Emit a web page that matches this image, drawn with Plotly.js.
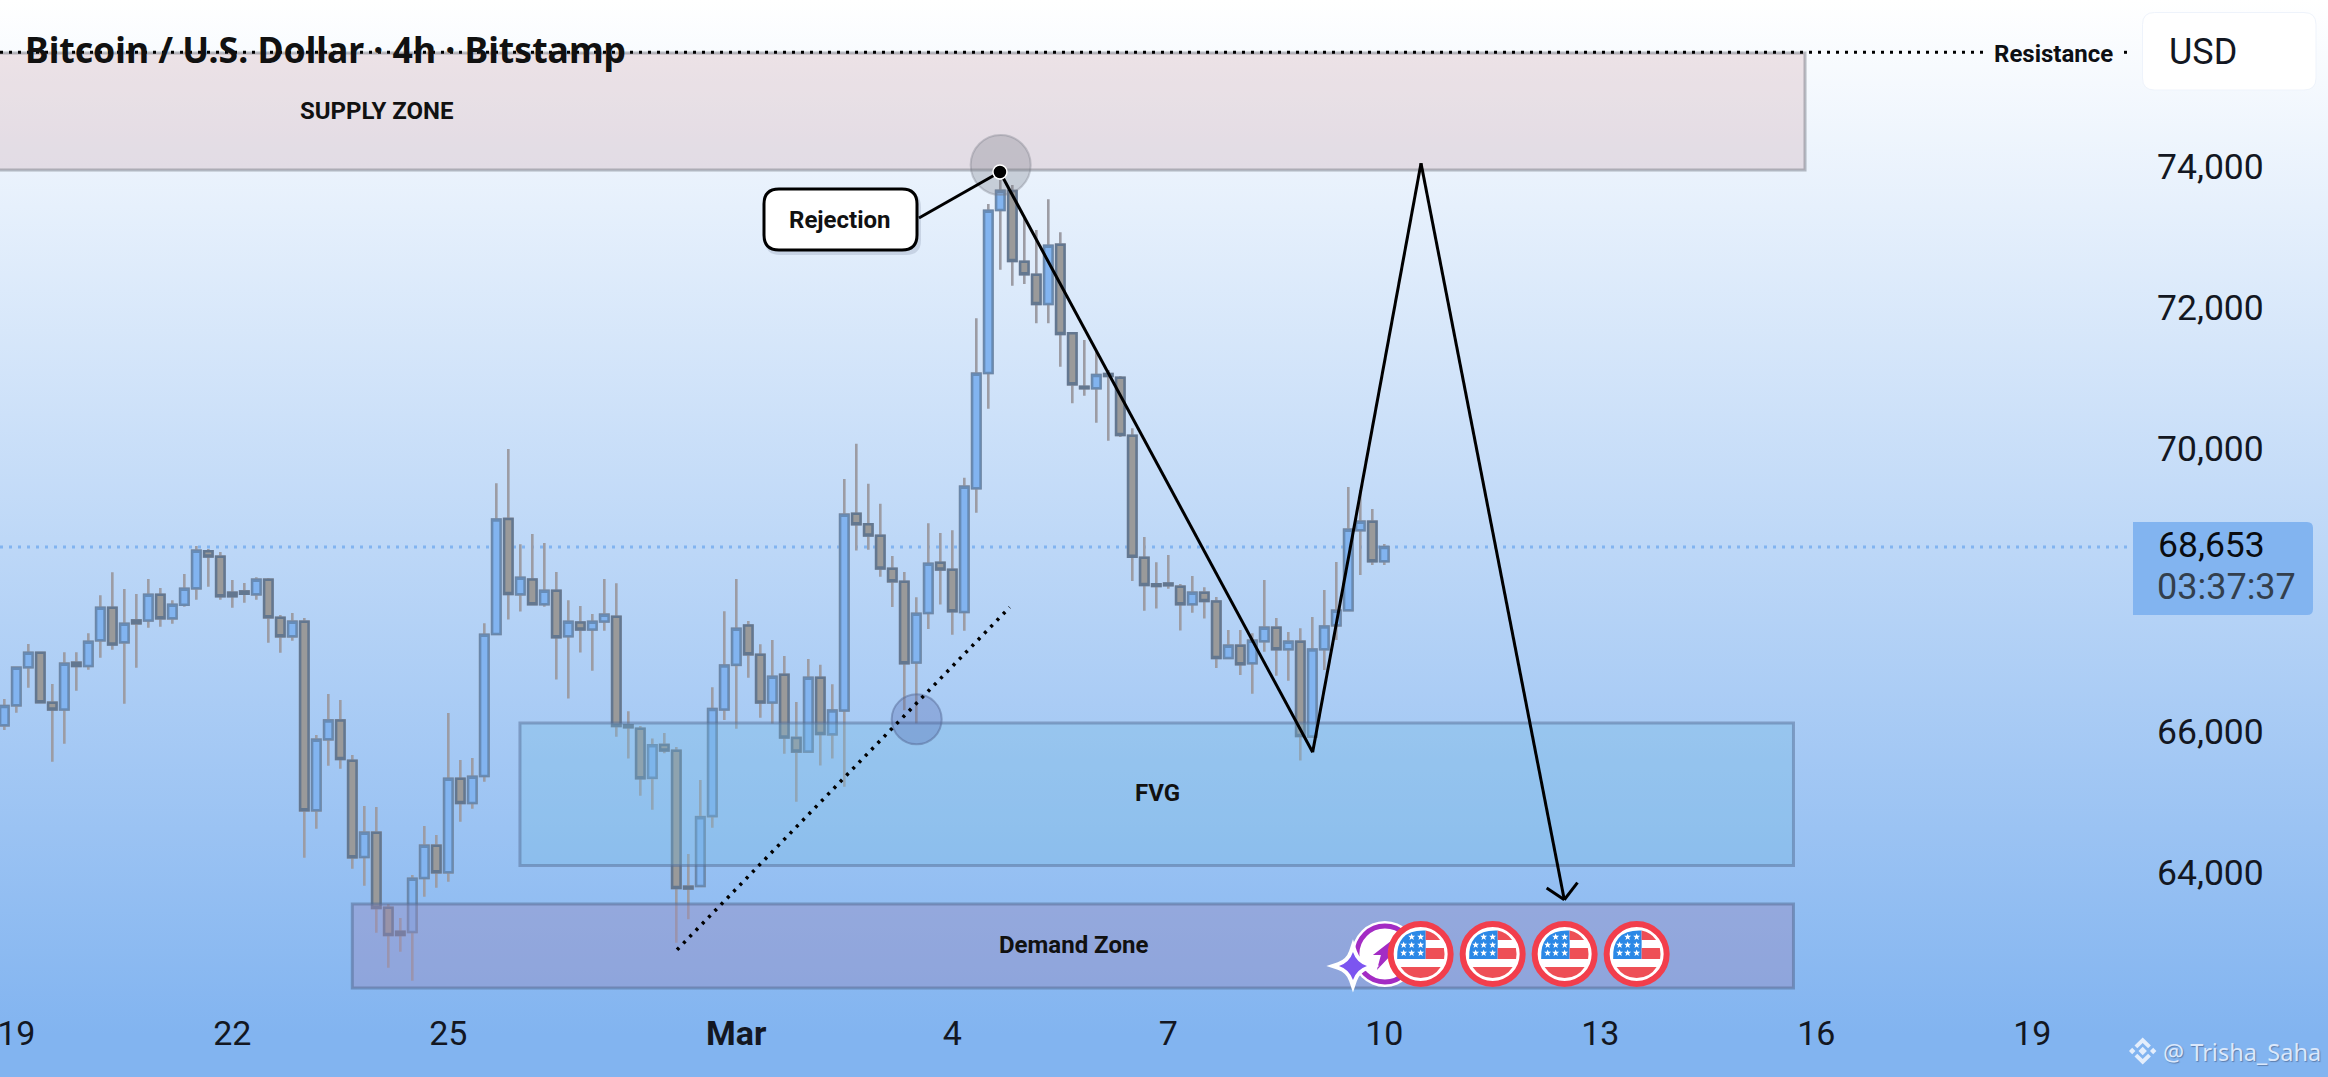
<!DOCTYPE html>
<html>
<head>
<meta charset="utf-8">
<script src="https://cdn.plot.ly/plotly-3.0.1.min.js"></script>
<style>
html,body{margin:0;padding:0;width:2328px;height:1077px;overflow:hidden;background:linear-gradient(180deg,#ffffff 0px,#82b4f0 1035px,#82b4f0 1077px);}
#chart{width:2328px;height:1077px;}
</style>
</head>
<body>
<div id="chart"></div>
<script>
const opens=[66053,66336,66875,67082,66374,66279,66941,66893,67257,67720,67229,67540,67540,67904,67569,67762,67994,68518,68443,67933,67951,67909,68117,67578,67314,67522,64848,65854,66123,65552,64187,64532,63469,63129,63124,63889,64348,63970,65297,64952,65335,67347,68978,67909,68118,67770,67959,67317,67511,67412,67526,67591,66054,66005,65309,65776,65691,63767,63777,64767,66278,66910,67466,67054,66378,66770,65875,65681,66726,65925,66263,69052,68903,68739,68272,68088,66944,67645,68356,68257,67660,69412,71046,73355,73624,72623,72438,72023,72864,71608,70851,70829,71031,70979,70157,68428,68051,68061,68018,67768,67933,67806,67008,67182,66932,67244,67437,67130,67239,65893,67130,67470,67683,68817,68939,68377];
const closes=[66327,66870,67082,66379,66279,66927,66893,67238,67720,67200,67493,67498,67904,67569,67762,67989,68528,68447,67881,67881,67918,68117,67583,67314,67522,64848,65850,66123,65576,64182,64532,63464,63082,63082,63880,64348,63970,65297,64952,65325,67337,68968,67914,68143,67770,67959,67302,67521,67412,67521,67621,66044,66025,65304,65771,65696,63747,63742,64752,66283,66900,67422,67059,66378,66740,65880,65681,66726,65930,66263,69038,68903,68744,68277,68093,66934,67635,68341,68262,67670,69435,71036,73345,73629,72633,72444,72023,72849,71598,70885,70829,71017,71003,70167,68443,68042,68028,68037,67768,67933,67815,67008,67182,66918,67253,67437,67130,67239,65902,67126,67452,67678,68826,68939,68377,68580];
const highs=[66426,66870,67205,67082,66638,67087,67087,67356,67895,68221,67984,67914,68126,67999,67824,68197,68594,68551,68509,68112,68069,68150,68140,67616,67644,67574,65916,66497,66412,65632,64910,64896,63521,63323,63932,64626,64499,66227,65561,65590,67498,69485,69967,68620,68764,68635,68227,67824,67745,67630,68128,68068,66253,66044,65865,65945,65746,64230,65279,66591,67670,68128,67531,67203,67263,67034,66383,66994,66910,66636,69545,70042,69475,69192,68451,68227,67869,68918,68779,68819,69560,71821,73440,73780,73710,73238,73072,73507,73039,71612,71513,71347,71088,71003,70262,68722,68363,68467,68056,68170,68009,67872,67404,67404,67357,68113,67574,67376,67428,67589,67971,68368,69431,69388,69119,68623];
const lows=[65987,66232,66586,66379,65538,65793,66544,66841,67012,67125,66360,66870,67437,67451,67493,67734,67833,68018,67833,67720,67791,67833,67224,67082,67252,64178,64588,65481,65439,64022,63781,63115,62619,62846,62435,63625,63752,63837,64688,64872,65254,67347,67551,67665,67770,67735,66701,66432,67084,66825,67392,65890,65582,65055,64856,65657,62972,63305,63757,64603,66129,66005,66726,66159,66074,65652,64970,65681,65483,65582,65184,68530,68540,68158,67730,66268,66079,67417,67765,67337,67392,69066,70540,72509,72283,72307,71750,71750,71135,70616,70724,70341,70086,70139,68098,67677,67707,67990,67395,67650,67565,66866,66998,66767,66502,67097,66757,66686,65553,65893,66838,67263,67683,68184,68325,68325];

const priceTicks=[64000,66000,70000,72000,74000];
const dateTicks=['2026-02-19','2026-02-22','2026-02-25','2026-03-01','2026-03-04','2026-03-07','2026-03-10','2026-03-13','2026-03-16','2026-03-19'];
const dateLabels=['19','22','25','<b>Mar</b>','4','7','10','13','16','19'];

const supplyZone={bars:[-5,150.06],prices:[73922,75580]};
const fvgZone={bars:[42.97,149.1],prices:[64065,66086]};
const demandZone={bars:[29,149.1],prices:[62331,63521]};
const resistancePrice=75590;
const zigzagBars=[82.97,109.03,118.06,130.0];
const zigzagPrices=[73894,65671,74017,63582];
const arrowBars=[128.53,131.1];
const arrowPrices=[63748,63823];
const trendBars=[56.06,83.78];
const trendPrices=[62872,67725];
const rejectionFrom=[76.22,73242];
const eventBars=[118.03,124.03,130.03,136.03];
const eventPrice=62813;

const T0=Date.UTC(2026,1,18,20);
function barTime(i){return new Date(T0+i*4*3600e3).toISOString().replace('T',' ').replace('Z','');}
const times=opens.map((_,i)=>barTime(i));
const PW=2132,PH=1005;
const px=x=>x/PW, py=y=>1-y/PH;
const pp=(x,y)=>px(x)+','+py(y);

function roundRect(x0,y0,x1,y1,r,rl){
  const l=rl===undefined?r:rl;
  return 'M'+pp(x0+l,y0)+' L'+pp(x1-r,y0)+' Q'+pp(x1,y0)+' '+pp(x1,y0+r)+' L'+pp(x1,y1-r)+' Q'+pp(x1,y1)+' '+pp(x1-r,y1)+' L'+pp(x0+l,y1)+' Q'+pp(x0,y1)+' '+pp(x0,y1-l)+' L'+pp(x0,y0+l)+' Q'+pp(x0,y0)+' '+pp(x0+l,y0)+' Z';
}
function zone(z,fill,stroke){
  return {type:'rect',layer:'above',x0:barTime(z.bars[0]),x1:barTime(z.bars[1]),y0:z.prices[0],y1:z.prices[1],fillcolor:fill,line:{color:stroke,width:3}};
}
function seg(b0,p0,b1,p1,w,dash){
  return {type:'line',layer:'above',x0:barTime(b0),x1:barTime(b1),y0:p0,y1:p1,line:{color:'#000',width:w,dash:dash||'solid'}};
}
function dot(bar,price,r,fill,stroke,w){
  return {type:'circle',layer:'above',xsizemode:'pixel',ysizemode:'pixel',xanchor:barTime(bar),yanchor:price,x0:-r,x1:r,y0:-r,y1:r,fillcolor:fill,line:{color:stroke,width:w}};
}
function glyph(bar,price,path,fill,stroke,w){
  return {type:'path',layer:'above',xsizemode:'pixel',ysizemode:'pixel',xanchor:barTime(bar),yanchor:price,path:path,fillcolor:fill,line:{color:stroke||'rgba(0,0,0,0)',width:w||0}};
}
function star(cx,cy,r){
  let s='';
  for(let k=0;k<10;k++){
    const a=Math.PI/2+k*Math.PI/5, q=k%2?r*0.42:r;
    s+=(k?'L':'M')+(cx+q*Math.cos(a)).toFixed(2)+','+(cy+q*Math.sin(a)).toFixed(2)+' ';
  }
  return s+'Z ';
}
function flag(bar){
  const stars=[[-9,17],[0,17],[-17,9],[-9,9],[0,9],[-17,1],[-9,1],[0,1]].map(c=>star(c[0],c[1],3.6)).join('');
  return [
    dot(bar,eventPrice,30,'#ffffff','#f23e4c',6),
    glyph(bar,eventPrice,'M5,-5 L-23.5,-5 Q-24.8,24.8 5,23.5 Z','#2b88e6'),
    glyph(bar,eventPrice,'M5,14 L5,23.5 Q14,22 19.5,14 Z','#ee4f56'),
    glyph(bar,eventPrice,'M5,6 L23.2,6 Q24.4,0 23.4,-5 L5,-5 Z','#ee4f56'),
    glyph(bar,eventPrice,'M-20,-13 L20,-13 Q13,-24 0,-24 Q-13,-24 -20,-13 Z','#ee4f56'),
    glyph(bar,eventPrice,stars,'#ffffff')
  ];
}
function paperPoly(path,fill){return {type:'path',xref:'paper',yref:'paper',layer:'above',path:path,fillcolor:fill,line:{width:0,color:'rgba(0,0,0,0)'}};}
function binance(cx,cy,col){
  const P=pts=>'M'+pts.map(p=>pp(cx+p[0],cy+p[1])).join(' L')+' Z ';
  const d=(x,y,r)=>P([[x,y-r],[x+r,y],[x,y+r],[x-r,y]]);
  return paperPoly(d(0,0,4.2)+d(-10.5,0,3.2)+d(10.5,0,3.2)+
    P([[0,-13.5],[8.2,-5.4],[5.4,-2.8],[0,-8],[-5.4,-2.8],[-8.2,-5.4]])+
    P([[0,13.5],[8.2,5.4],[5.4,2.8],[0,8],[-5.4,2.8],[-8.2,5.4]]),col);
}

const lastClose=closes[closes.length-1];
const DOTS='3px,6px';
const SPARK='M0,14 Q3.5,3.5 14,0 Q3.5,-3.5 0,-14 Q-3.5,-3.5 -14,0 Q-3.5,3.5 0,14 Z';
const shapes=[
  {type:'line',layer:'below',xref:'paper',x0:0,x1:1,y0:lastClose,y1:lastClose,line:{color:'#82b4f0',width:3,dash:DOTS}},
  zone(supplyZone,'rgba(200,150,160,0.25)','rgba(120,123,134,0.5)'),
  zone(fvgZone,'rgba(115,185,225,0.3)','rgba(85,110,150,0.5)'),
  zone(demandZone,'rgba(153,138,190,0.4)','rgba(85,110,150,0.55)'),
  {type:'line',layer:'above',xref:'paper',x0:0,x1:px(1984),y0:resistancePrice,y1:resistancePrice,line:{color:'#000',width:3,dash:DOTS}},
  {type:'line',layer:'above',xref:'paper',x0:px(2124),x1:px(2127),y0:resistancePrice,y1:resistancePrice,line:{color:'#000',width:3}},
  dot(83.03,73993,30,'rgba(120,123,134,0.3)','rgba(120,123,134,0.35)',2),
  dot(76.03,66138,25,'rgba(80,100,170,0.3)','rgba(85,105,150,0.5)',2),
  seg(trendBars[0],trendPrices[0],trendBars[1],trendPrices[1],3.5,DOTS),
  seg(zigzagBars[0],zigzagPrices[0],zigzagBars[1],zigzagPrices[1],3),
  seg(zigzagBars[1],zigzagPrices[1],zigzagBars[2],zigzagPrices[2],3),
  seg(zigzagBars[2],zigzagPrices[2],zigzagBars[3],zigzagPrices[3],3),
  seg(arrowBars[0],arrowPrices[0],zigzagBars[3],zigzagPrices[3],3),
  seg(arrowBars[1],arrowPrices[1],zigzagBars[3],zigzagPrices[3],3),
  seg(rejectionFrom[0],rejectionFrom[1],zigzagBars[0],zigzagPrices[0],3),
  dot(zigzagBars[0],zigzagPrices[0],7,'#000','#ffffff',1.5),
  paperPoly(roundRect(765,192,921,255,15),'rgba(40,60,90,0.14)'),
  {type:'path',xref:'paper',yref:'paper',layer:'above',path:roundRect(764,189,917,250,15),fillcolor:'#ffffff',line:{color:'#000',width:3}},
  // calendar icons
  dot(115.05,eventPrice,33,'#ffffff','#ffffff',0),
  dot(115.05,eventPrice,28,'#ffffff','#a32cc4',5),
  glyph(115.05,eventPrice,'M-12,-1 L6,13 L3,2 L9,2 L-8,-16 L-4,-1 Z','#a32cc4'),
  glyph(112.39,62643,SPARK,'#ffffff','#ffffff',8),
  glyph(112.39,62643,SPARK,'#7c55f0'),
  ...eventBars.flatMap(flag),
  // right column
  {type:'path',xref:'paper',yref:'paper',layer:'above',path:roundRect(2142.5,12.5,2316,90,12),fillcolor:'#ffffff',line:{color:'#eef3fb',width:1}},
  paperPoly('M'+pp(2133,522)+' L'+pp(2307,522)+' Q'+pp(2313,522)+' '+pp(2313,528)+' L'+pp(2313,609)+' Q'+pp(2313,615)+' '+pp(2307,615)+' L'+pp(2133,615)+' Z','#82b4f0'),
  binance(2142.7,1051,'#e4eefc')
];

function note(text,x,y,size,opts){
  const o=opts||{};
  return {xref:'paper',yref:'paper',x:px(x),y:py(y),text:text,showarrow:false,xanchor:o.anchor||'center',yanchor:'middle',borderpad:0,
    font:{family:o.family||'Roboto, sans-serif',size:size,color:o.color||'#000',weight:o.weight||400,shadow:o.shadow||'none'}};
}
const annotations=[
  note('Bitcoin / U.S. Dollar · 4h · Bitstamp',24,49,35.6,{anchor:'left',family:'"Noto Sans",sans-serif',weight:700,color:'#111'}),
  note('SUPPLY ZONE',376,111,24,{weight:700,color:'#111'}),
  note('Demand Zone',1073,945,24,{weight:700,color:'#111'}),
  note('FVG',1157,793,24,{weight:700,color:'#111'}),
  note('Rejection',840,220,24,{weight:700,color:'#111'}),
  note('Resistance',2053,54,24,{weight:700,color:'#0d0f14'}),
  note('USD',2168,52,36,{anchor:'left',color:'#131722'}),
  note('68,653',2157,545,35.5,{anchor:'left',color:'#0a0c10'}),
  note('03:37:37',2156,587,36,{anchor:'left',color:'#333f4d'}),
  note('@ Trisha_Saha',2162,1052,23.5,{anchor:'left',family:'"Noto Sans",sans-serif',color:'#dbe8fb',shadow:'1px 1px 1px rgba(70,90,130,0.6)'})
];

const WICK='#9c9ca4';
const wickTrace={type:'candlestick',x:times,open:opens,high:highs,low:lows,close:closes,hoverinfo:'skip',showlegend:false,
  increasing:{line:{color:WICK,width:2.6},fillcolor:'#82b4f0'},
  decreasing:{line:{color:WICK,width:2.6},fillcolor:'#9a9a9a'}};
const bodyTrace={type:'candlestick',x:times,open:opens,close:closes,
  high:opens.map((o,i)=>Math.max(o,closes[i])),low:opens.map((o,i)=>Math.min(o,closes[i])),hoverinfo:'skip',showlegend:false,
  increasing:{line:{color:'rgba(95,130,170,0.8)',width:2.5},fillcolor:'#82b4f0'},
  decreasing:{line:{color:'rgba(85,110,140,0.8)',width:2.5},fillcolor:'#9a9a9a'}};

const layout={
  width:2328,height:1077,autosize:false,showlegend:false,
  margin:{l:0,r:196,t:0,b:72,pad:0},boxgap:0.3,boxgroupgap:0,
  paper_bgcolor:'rgba(0,0,0,0)',plot_bgcolor:'rgba(0,0,0,0)',
  xaxis:{type:'date',range:[barTime(-0.361),barTime(177.31)],rangeslider:{visible:false},showgrid:false,zeroline:false,showline:false,
    ticks:'',tickmode:'array',tickvals:dateTicks,ticktext:dateLabels,tickangle:0,ticklabelstandoff:5,ticklabeloverflow:'allow',
    tickfont:{family:'Roboto, sans-serif',size:34,color:'#131722'}},
  yaxis:{side:'right',range:[62090,76331],showgrid:false,zeroline:false,showline:false,ticks:'',
    tickmode:'array',tickvals:priceTicks,ticktext:priceTicks.map(v=>v.toLocaleString('en-US')),ticklabelstandoff:24,ticklabelshift:2,
    tickfont:{family:'Roboto, sans-serif',size:35.5,color:'#131722'}},
  shapes:shapes,annotations:annotations
};
Plotly.newPlot('chart',[wickTrace,bodyTrace],layout,{staticPlot:true,displayModeBar:false});
</script>
</body>
</html>
